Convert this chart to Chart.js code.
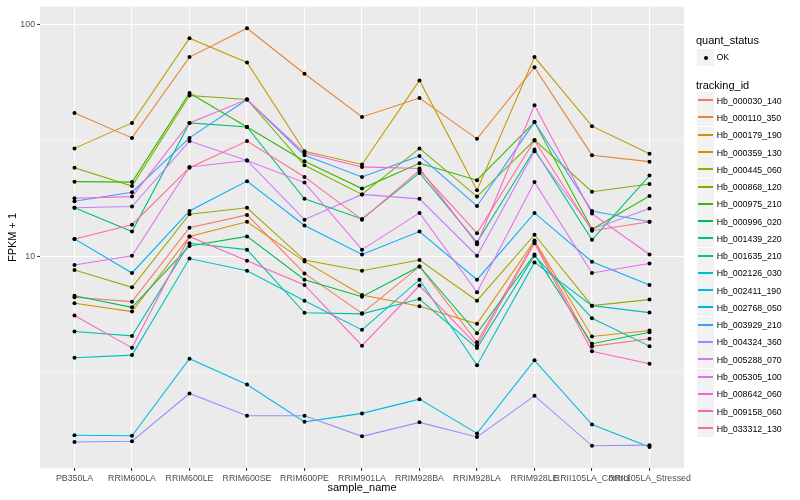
<!DOCTYPE html>
<html lang="en">
<head>
    <meta charset="UTF-8">
    <title>FPKM by sample</title>
    <script src="https://cdn.jsdelivr.net/npm/chart.js@4/dist/chart.umd.min.js"></script>
    <style>
        body {
            margin: 0;
            background: #ffffff;
            font-family: "Liberation Sans", Arial, sans-serif;
        }
        #wrap {
            position: relative;
            width: 800px;
            height: 500px;
        }
        canvas {
            position: absolute;
            left: 0;
            top: 0;
        }
        .lgTitle {
            position: absolute;
            font-size: 11px;
            line-height: 13px;
            color: #000;
            white-space: nowrap;
        }
        .lgKey {
            position: absolute;
            width: 17px;
            height: 17px;
            background: #F2F2F2;
        }
        .lgText {
            position: absolute;
            font-size: 8.8px;
            line-height: 10px;
            color: #000;
            white-space: nowrap;
        }
    </style>
</head>
<body>
<div id="wrap">
    <canvas id="graf" width="800" height="500"></canvas>
    <div id="legende"></div>
</div>

<script>
    // categories on the x axis
    const sampleNames = ['PB350LA', 'RRIM600LA', 'RRIM600LE', 'RRIM600SE', 'RRIM600PE', 'RRIM901LA',
        'RRIM928BA', 'RRIM928LA', 'RRIM928LE', 'RRII105LA_Control', 'RRII105LA_Stressed'];

    // y breaks (log scale): minor, major, minor, major
    const yBreaks = [3.1623, 10, 31.623, 100];
    const yLabels = ['', '10', '', '100'];

    // FPKM + 1 per tracking id
    const Hb_000030_140 = [6.67, 6.39, 13.3, 15.1, 8.45, 5.69, 9.06, 4.27, 11.6, 4.10, 4.42];
    const Hb_000110_350 = [41.5, 32.4, 72.2, 96.1, 61.2, 39.9, 48.1, 32.1, 65.2, 27.3, 25.6];
    const Hb_000179_190 = [6.29, 5.79, 12.2, 14.1, 9.52, 6.83, 6.10, 5.13, 11.7, 4.52, 4.80];
    const Hb_000359_130 = [29.2, 37.6, 87.1, 68.5, 28.4, 24.9, 57.3, 19.3, 72.2, 36.4, 27.7];
    const Hb_000445_060 = [8.74, 7.36, 15.2, 16.2, 9.65, 8.68, 9.65, 6.45, 12.4, 6.14, 6.52];
    const Hb_000868_120 = [24.1, 20.1, 49.3, 47.4, 24.7, 18.5, 29.2, 18.1, 31.7, 19.0, 20.5];
    const Hb_000975_210 = [21.0, 20.9, 50.6, 36.1, 25.7, 19.6, 25.2, 21.3, 37.9, 13.1, 18.2];
    const Hb_000996_020 = [6.78, 6.04, 11.1, 12.2, 7.94, 6.71, 9.06, 4.67, 10.2, 4.21, 4.72];
    const Hb_001439_220 = [16.2, 12.8, 37.6, 36.1, 17.7, 14.5, 22.9, 11.5, 28.9, 11.8, 22.3];
    const Hb_001635_210 = [4.75, 4.55, 11.4, 10.7, 5.72, 5.66, 6.56, 4.03, 10.07, 5.42, 4.11];
    const Hb_002126_030 = [3.66, 3.76, 9.80, 8.68, 6.45, 4.83, 7.94, 3.40, 9.43, 6.14, 5.73];
    const Hb_002411_190 = [1.70, 1.69, 3.63, 2.81, 1.94, 2.11, 2.43, 1.73, 3.57, 1.89, 1.51];
    const Hb_002768_050 = [11.9, 8.49, 15.7, 21.1, 13.6, 10.2, 12.8, 7.94, 15.4, 9.49, 7.54];
    const Hb_003929_210 = [17.3, 18.9, 32.4, 47.4, 27.3, 22.0, 27.1, 16.5, 37.9, 15.7, 14.1];
    const Hb_004324_360 = [1.59, 1.60, 2.57, 2.06, 2.06, 1.68, 1.93, 1.67, 2.51, 1.53, 1.54];
    const Hb_005288_070 = [16.2, 16.4, 31.4, 25.9, 14.4, 18.5, 17.7, 10.07, 28.4, 13.1, 16.1];
    const Hb_005305_100 = [9.19, 10.07, 24.3, 25.9, 20.8, 10.7, 15.4, 7.01, 20.9, 8.49, 9.33];
    const Hb_008642_060 = [17.8, 18.1, 37.6, 47.4, 27.9, 24.3, 23.9, 11.3, 44.8, 15.3, 10.2];
    const Hb_009158_060 = [5.57, 4.04, 12.2, 9.58, 7.54, 4.13, 7.49, 4.14, 11.4, 3.91, 3.45];
    const Hb_033312_130 = [11.9, 13.7, 24.1, 31.4, 22.0, 14.4, 23.5, 12.6, 31.6, 12.9, 14.1];

    const trackingIds = ['Hb_000030_140', 'Hb_000110_350', 'Hb_000179_190', 'Hb_000359_130', 'Hb_000445_060',
        'Hb_000868_120', 'Hb_000975_210', 'Hb_000996_020', 'Hb_001439_220', 'Hb_001635_210',
        'Hb_002126_030', 'Hb_002411_190', 'Hb_002768_050', 'Hb_003929_210', 'Hb_004324_360',
        'Hb_005288_070', 'Hb_005305_100', 'Hb_008642_060', 'Hb_009158_060', 'Hb_033312_130'];
    const seriesValues = [Hb_000030_140, Hb_000110_350, Hb_000179_190, Hb_000359_130, Hb_000445_060,
        Hb_000868_120, Hb_000975_210, Hb_000996_020, Hb_001439_220, Hb_001635_210,
        Hb_002126_030, Hb_002411_190, Hb_002768_050, Hb_003929_210, Hb_004324_360,
        Hb_005288_070, Hb_005305_100, Hb_008642_060, Hb_009158_060, Hb_033312_130];

    // ggplot hue palette, 20 colours
    const farger = ['#F8766D', '#EA8331', '#D89000', '#C09B00', '#A3A500', '#7CAE00', '#39B600', '#00BB4E',
        '#00BF7D', '#00C1A3', '#00BFC4', '#00BAE0', '#00B0F6', '#35A2FF', '#9590FF', '#C77CFF',
        '#E76BF3', '#FA62DB', '#FF62BC', '#FF6C91'];

    const fontFamily = '"Liberation Sans", Arial, sans-serif';

    // lines first, points on top (lower order draws last)
    let datasets = [];
    trackingIds.forEach((id, i) => {
        datasets.push({
            label: id,
            data: seriesValues[i].map((v, k) => ({x: k, y: v})),
            borderColor: farger[i],
            borderWidth: 1.07,
            pointRadius: 0,
            fill: false,
            tension: 0,
            order: 40 - i
        });
    });
    trackingIds.forEach((id, i) => {
        datasets.push({
            label: id + ' OK',
            data: seriesValues[i].map((v, k) => ({x: k, y: v})),
            showLine: false,
            pointRadius: 2,
            pointStyle: 'circle',
            pointBackgroundColor: '#000000',
            pointBorderWidth: 0,
            order: 0
        });
    });

    // grey panel background
    const panelBakgrunn = {
        id: 'panelBakgrunn',
        beforeDraw(chart) {
            const {ctx, chartArea} = chart;
            ctx.save();
            ctx.fillStyle = '#ffffff';
            ctx.fillRect(0, 0, chart.width, chart.height);
            ctx.fillStyle = '#EBEBEB';
            ctx.fillRect(chartArea.left, chartArea.top, chartArea.right - chartArea.left, chartArea.bottom - chartArea.top);
            ctx.restore();
        }
    };

    function erMajor(value) {
        return Math.abs(value - 10) < 1e-6 || Math.abs(value - 100) < 1e-6;
    }

    new Chart(document.getElementById('graf'), {
        type: 'line',
        data: {datasets: datasets},
        options: {
            responsive: false,
            animation: false,
            layout: {padding: {top: 5, right: 116, left: 0, bottom: 0}},
            plugins: {
                legend: {display: false},
                tooltip: {enabled: false}
            },
            scales: {
                x: {
                    type: 'linear',
                    min: -0.6,
                    max: sampleNames.length - 1 + 0.6,
                    afterBuildTicks: s => { s.ticks = sampleNames.map((n, i) => ({value: i})); },
                    afterFit: s => { s.height = 31.7; },
                    border: {display: false},
                    grid: {
                        color: '#FFFFFF',
                        lineWidth: 1.07,
                        drawTicks: true,
                        tickLength: 2.75,
                        tickColor: '#333333',
                        tickWidth: 1.07
                    },
                    ticks: {
                        autoSkip: false,
                        maxRotation: 0,
                        minRotation: 0,
                        padding: 2.2,
                        color: '#4D4D4D',
                        font: {family: fontFamily, size: 8.8},
                        callback: v => sampleNames[v]
                    },
                    title: {
                        display: true,
                        text: 'sample_name',
                        color: '#000000',
                        font: {family: fontFamily, size: 11},
                        padding: {top: 0, bottom: 5.1}
                    }
                },
                y: {
                    type: 'logarithmic',
                    min: 1.224,
                    max: 119.1,
                    afterBuildTicks: s => { s.ticks = yBreaks.map(v => ({value: v})); },
                    afterFit: s => { s.width = 40; },
                    border: {display: false},
                    grid: {
                        color: '#FFFFFF',
                        lineWidth: c => erMajor(c.tick.value) ? 1.07 : 0.53,
                        drawTicks: true,
                        tickLength: 2.75,
                        tickColor: c => erMajor(c.tick.value) ? '#333333' : 'rgba(0,0,0,0)',
                        tickWidth: 1.07
                    },
                    ticks: {
                        padding: 2.2,
                        color: '#4D4D4D',
                        font: {family: fontFamily, size: 8.8, lineHeight: 1},
                        callback: (v, i) => yLabels[i]
                    },
                    title: {
                        display: true,
                        text: 'FPKM + 1',
                        color: '#000000',
                        font: {family: fontFamily, size: 11},
                        padding: {top: 5.9, bottom: 0}
                    }
                }
            }
        },
        plugins: [panelBakgrunn]
    });

    // legend, ggplot style
    const legende = document.getElementById('legende');
    function leggTil(cls, left, top, text) {
        let el = document.createElement('div');
        el.className = cls;
        el.style.left = left + 'px';
        el.style.top = top + 'px';
        if (text) el.textContent = text;
        legende.appendChild(el);
        return el;
    }

    leggTil('lgTitle', 696, 34.2, 'quant_status');
    let okKey = leggTil('lgKey', 697, 49);
    let prikk = document.createElement('div');
    prikk.style.cssText = 'position:absolute;left:6.5px;top:6.5px;width:4px;height:4px;border-radius:50%;background:#000;';
    okKey.appendChild(prikk);
    leggTil('lgText', 716.5, 52, 'OK');

    leggTil('lgTitle', 696, 78.5, 'tracking_id');
    trackingIds.forEach((id, i) => {
        let midt = 100.7 + i * 17.27;
        let keyTop = Math.round(midt - 8.5);
        let key = leggTil('lgKey', 697, keyTop);
        let strek = document.createElement('div');
        strek.style.cssText = 'position:absolute;left:1px;top:7px;width:15px;height:2px;background:' + farger[i] + ';';
        key.appendChild(strek);
        leggTil('lgText', 716.7, midt - 5, id);
    });
</script>
</body>
</html>
